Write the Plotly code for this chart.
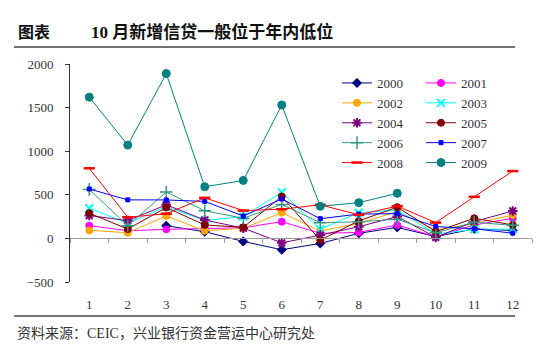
import plotly.graph_objects as go

months = list(range(1, 13))
month_labels = [str(m) for m in months]
y_ticks = [-500, 0, 500, 1000, 1500, 2000]

y2000 = [None, None, 145, 77, -35, -130, -58, 58, 127, 20, 110, 90]
y2001 = [146, 88, 104, 115, 122, 192, 58, 69, 154, 19, 154, 231]
y2002 = [92, 65, 258, 88, 115, 296, 84, 173, 308, 96, 170, 269]
y2003 = [346, 173, 365, 205, 250, 530, 104, 296, 327, 50, 104, 107]
y2004 = [262, 204, 385, 211, 118, -51, 38, 134, 250, 12, 192, 315]
y2005 = [289, 107, 354, 154, 127, 481, -20, 200, 358, 77, 231, 154]
y2006 = [562, 145, 532, 317, 231, 390, 180, 190, 220, 65, 185, 150]
y2007 = [567, 442, 441, 424, 256, 452, 226, 279, 284, 136, 110, 60]
y2008 = [804, 243, 283, 465, 319, 335, 385, 271, 370, 181, 477, 772]
y2009 = [1620, 1070, 1890, 592, 665, 1530, 368, 410, 517, None, None, None]

series = [
    ("2000", y2000, "#000080", "diamond", 7, 1, "legend"),
    ("2001", y2001, "#FF00FF", "circle", 7, 1, "legend2"),
    ("2002", y2002, "#FFA500", "circle", 7, 1, "legend"),
    ("2003", y2003, "#00FFFF", "x-thin-open", 8, 2, "legend2"),
    ("2004", y2004, "#800080", "asterisk-open", 8, 2, "legend"),
    ("2005", y2005, "#800000", "circle", 7, 1, "legend2"),
    ("2006", y2006, "#339980", "cross-thin-open", 9, 1.5, "legend"),
    ("2007", y2007, "#0000FF", "square", 4, 1, "legend2"),
    ("2008", y2008, "#FF0000", "line-ew-open", 8, 2.5, "legend"),
    ("2009", y2009, "#008080", "circle", 8, 1, "legend2"),
]

W, H = 545, 347
L, R, T, B = 70, 13, 64, 65
PW, PH = W - L - R, H - T - B


def px(xp):
    return (xp - L) / PW


def py(yp):
    return (H - B - yp) / PH


fig = go.Figure()
for name, ys, color, sym, size, lw, leg in series:
    fig.add_trace(go.Scatter(
        x=months, y=ys, name=name, mode="lines+markers",
        line=dict(color=color, width=1),
        marker=dict(symbol=sym, size=size, color=color,
                    line=dict(color=color, width=lw)),
        connectgaps=False, legend=leg,
    ))

# helper trace for the zero-line category axis
fig.add_trace(go.Scatter(x=[1], y=[None], xaxis="x2", showlegend=False,
                         hoverinfo="skip", mode="lines"))

serif = "Liberation Serif, 'Noto Sans CJK SC', serif"
cjk = "'Liberation Serif', 'Noto Sans CJK SC', sans-serif"

fig.update_layout(
    width=W, height=H,
    margin=dict(l=L, r=R, t=T, b=B),
    paper_bgcolor="white", plot_bgcolor="white",
    font=dict(family=serif, size=13, color="#333333"),
    xaxis=dict(range=[0.5, 12.5], tickvals=months, ticktext=month_labels,
               showline=False, showgrid=False, zeroline=False,
               ticks="outside", ticklen=10, tickcolor="rgba(0,0,0,0)",
               tickfont=dict(size=13, color="#333333")),
    xaxis2=dict(range=[0.5, 12.5], overlaying="x", anchor="free", position=0.2,
                tickvals=[m + 0.5 for m in [0] + months], showticklabels=False,
                ticks="outside", ticklen=4, tickcolor="#999999",
                showline=True, linecolor="#999999", linewidth=1,
                showgrid=False, zeroline=False),
    yaxis=dict(range=[-500, 2000], tickvals=y_ticks, showgrid=False,
               zeroline=False, showline=True, linecolor="#333333", linewidth=1,
               ticks="outside", ticklen=4, tickcolor="#333333",
               ticklabelstandoff=9,
               tickfont=dict(size=13, color="#333333")),
    legend=dict(x=px(337), y=py(68), xanchor="left", yanchor="top",
                bgcolor="rgba(0,0,0,0)", itemwidth=30,
                font=dict(size=13, color="#333333"), tracegroupgap=0),
    legend2=dict(x=px(421), y=py(68), xanchor="left", yanchor="top",
                 bgcolor="rgba(0,0,0,0)", itemwidth=30,
                 font=dict(size=13, color="#333333"), tracegroupgap=0),
    showlegend=True,
)

# decorative header / footer rules
fig.add_shape(type="line", xref="paper", yref="paper",
              x0=px(14), x1=px(515), y0=py(47), y1=py(47),
              line=dict(color="#444444", width=1.5))
fig.add_shape(type="line", xref="paper", yref="paper",
              x0=px(14), x1=px(515), y0=py(316), y1=py(316),
              line=dict(color="#444444", width=1.5))

fig.add_annotation(text="<b>图表</b>", xref="paper", yref="paper",
                   x=px(16), y=py(32), xanchor="left", yanchor="middle",
                   showarrow=False, font=dict(family=cjk, size=16, color="#111111"))
fig.add_annotation(text="<b>10 月新增信贷一般位于年内低位</b>", xref="paper", yref="paper",
                   x=px(89), y=py(32), xanchor="left", yanchor="middle",
                   showarrow=False, font=dict(family=cjk, size=17, color="#111111"))
fig.add_annotation(text="资料来源：CEIC，兴业银行资金营运中心研究处", xref="paper", yref="paper",
                   x=px(15), y=py(333), xanchor="left", yanchor="middle",
                   showarrow=False, font=dict(family=cjk, size=14, color="#333333"))

fig.write_html("out.html")
